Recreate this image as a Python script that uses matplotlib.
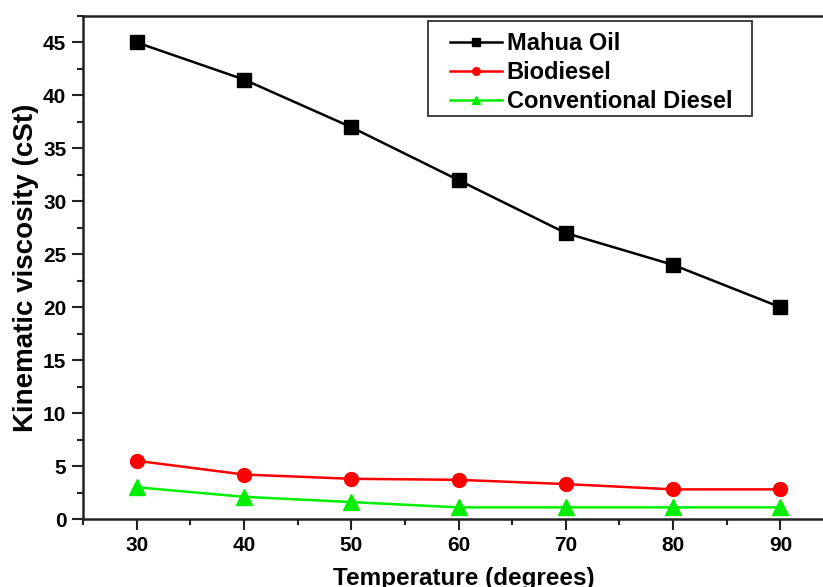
import matplotlib.pyplot as plt
from matplotlib.patches import Rectangle
from matplotlib.ticker import MultipleLocator

plt.rcParams['font.family'] = ['Liberation Sans', 'DejaVu Sans']
plt.rcParams['font.weight'] = 'bold'

# --- data ---
temperature = [30, 40, 50, 60, 70, 80, 90]
mahua_oil = [45, 41.5, 37, 32, 27, 24, 20]
biodiesel = [5.5, 4.2, 3.8, 3.7, 3.3, 2.8, 2.8]
conv_diesel = [3.0, 2.1, 1.6, 1.1, 1.1, 1.1, 1.1]

fig = plt.figure(figsize=(8.23, 5.87), dpi=100)
ax = fig.add_axes([0.1009, 0.1158, 0.9125, 0.857])

ax.plot(temperature, mahua_oil, color='black', lw=1.8, marker='s', ms=9.5,
        label='Mahua Oil')
ax.plot(temperature, biodiesel, color='#ff0000', lw=1.8, marker='o', ms=10,
        label='Biodiesel')
ax.plot(temperature, conv_diesel, color='#00ee00', lw=1.8, marker='^', ms=11,
        label='Conventional Diesel')

ax.set_xlim(25, 95)
ax.set_ylim(0, 47.5)
ax.xaxis.set_major_locator(MultipleLocator(10))
ax.xaxis.set_minor_locator(MultipleLocator(5))
ax.yaxis.set_major_locator(MultipleLocator(5))
ax.yaxis.set_minor_locator(MultipleLocator(2.5))

for side in ax.spines.values():
    side.set_linewidth(1.8)
    side.set_color('#222222')

ax.tick_params(which='major', direction='out', length=8, width=1.5,
               labelsize=15, pad=4, color='#222222')
ax.tick_params(which='minor', direction='out', length=4.5, width=1.5,
               color='#222222')
for lab in ax.get_xticklabels() + ax.get_yticklabels():
    lab.set_fontweight('bold')

ax.set_xlabel('Temperature (degrees)', fontsize=17.5, fontweight='bold',
              labelpad=7)
ax.xaxis.set_label_coords(0.507, -0.095)
ax.set_ylabel('Kinematic viscosity (cSt)', fontsize=20, fontweight='bold',
              labelpad=3)

# legend entries without their own frame; box drawn separately
leg = ax.legend(loc='upper left', bbox_to_anchor=(0.4887, 0.968),
                fontsize=17, frameon=False, markerscale=0.55,
                handlelength=2.2, handletextpad=0.2, labelspacing=0.25,
                borderpad=0, borderaxespad=0)
for t in leg.get_texts():
    t.set_fontweight('bold')
ax.add_patch(Rectangle((0.4594, 0.801), 0.4314, 0.189, transform=ax.transAxes,
                       fill=False, edgecolor='#333333', lw=1.3, zorder=5))

fig.savefig('out.png', dpi=100)
